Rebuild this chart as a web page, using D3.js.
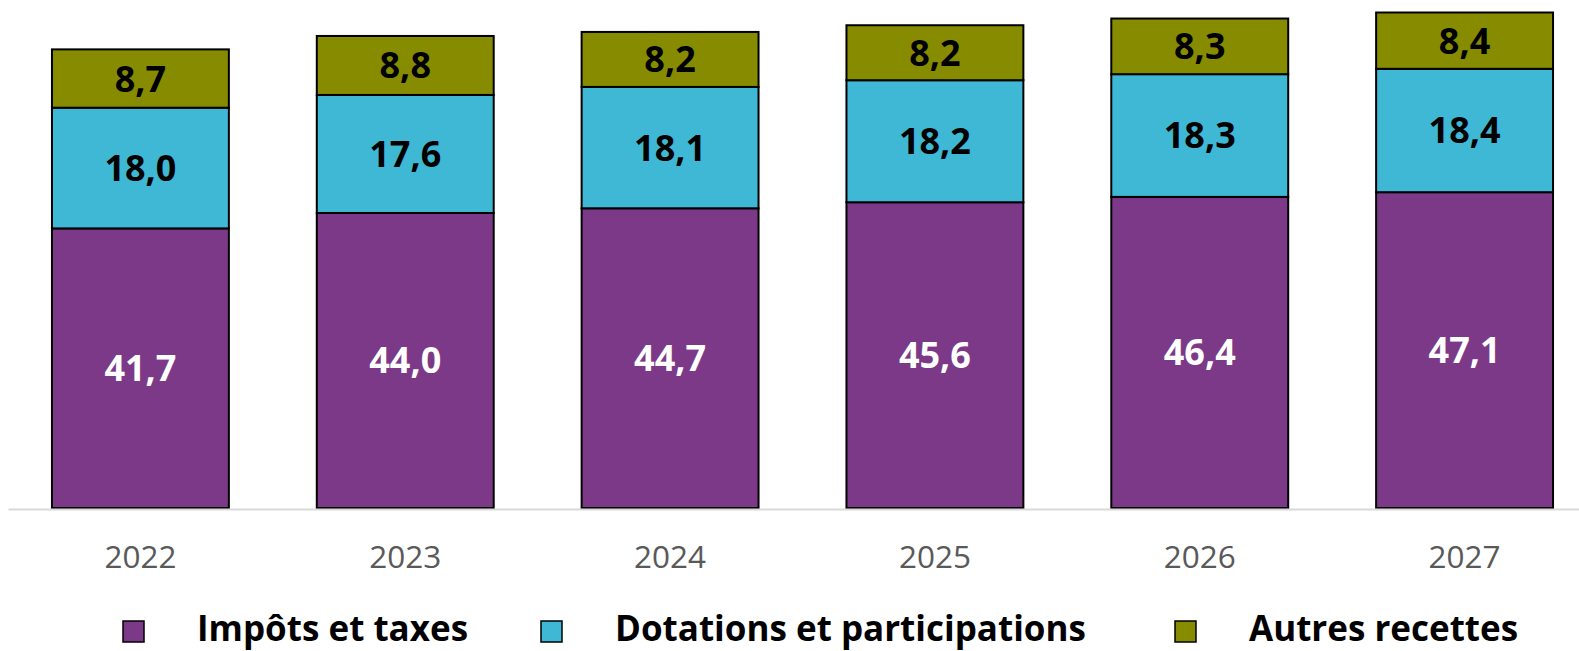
<!DOCTYPE html>
<html>
<head>
<meta charset="utf-8">
<script src="https://cdn.jsdelivr.net/npm/d3@7"></script>
<style>
  html, body { margin: 0; padding: 0; background: #fff; }
  svg { display: block; }
</style>
</head>
<body>
<div id="chart"></div>
<script>
// ----------------------------
// DATA
// ----------------------------
const years = ["2022", "2023", "2024", "2025", "2026", "2027"];
const impots = [41.7, 44.0, 44.7, 45.6, 46.4, 47.1];
const dotations = [18.0, 17.6, 18.1, 18.2, 18.3, 18.4];
const autres = [8.7, 8.8, 8.2, 8.2, 8.3, 8.4];

const seriesNames = ["Impôts et taxes", "Dotations et participations", "Autres recettes"];
const seriesColors = ["#7b3987", "#3fb8d5", "#878b00"];
const labelColors = ["#ffffff", "#000000", "#000000"];

function drawChart() {
  const width = 1579;
  const height = 651;
  const baseY = 508;

  const rows = years.map((y, i) => ({
    year: y,
    s0: impots[i],
    s1: dotations[i],
    s2: autres[i]
  }));

  const stack = d3.stack().keys(["s0", "s1", "s2"]);
  const layers = stack(rows);

  const svg = d3.select("#chart")
    .append("svg")
    .attr("width", width)
    .attr("height", height);

  const x = d3.scaleBand()
    .domain(years)
    .range([8, 1597])
    .paddingInner(0.332)
    .paddingOuter(0.166);

  const y = d3.scaleLinear()
    .domain([0, 75])
    .range([baseY, baseY - 75 * 6.705]);

  // ----------------------------
  // BARS
  // ----------------------------
  const groups = svg.selectAll(".layer")
    .data(layers)
    .join("g")
    .attr("class", "layer")
    .attr("fill", (d, i) => seriesColors[i]);

  groups.selectAll("rect")
    .data(d => d)
    .join("rect")
    .attr("x", d => x(d.data.year))
    .attr("width", x.bandwidth())
    .attr("y", d => y(d[1]))
    .attr("height", d => y(d[0]) - y(d[1]))
    .attr("stroke", "#000")
    .attr("stroke-width", 2);

  // baseline axis
  svg.append("g")
    .attr("transform", `translate(0,${baseY + 1})`)
    .call(d3.axisBottom(x).tickSize(0).tickPadding(0).tickFormat(""))
    .call(g => g.select(".domain").attr("stroke", "#d9d9d9").attr("stroke-width", 2));

  // year labels
  svg.append("g")
    .selectAll("text")
    .data(years)
    .join("text")
    .attr("x", d => x(d) + x.bandwidth() / 2)
    .attr("y", 568)
    .attr("text-anchor", "middle")
    .attr("font-family", "'Open Sans', sans-serif")
    .attr("font-size", "31.5px")
    .attr("fill", "#595959")
    .text(d => d);

  // ----------------------------
  // VALUE LABELS
  // ----------------------------
  const fmt = v => d3.format(".1f")(v).replace(".", ",");

  layers.forEach((layer, li) => {
    svg.append("g")
      .selectAll("text")
      .data(layer)
      .join("text")
      .attr("x", d => x(d.data.year) + x.bandwidth() / 2)
      .attr("y", d => (y(d[0]) + y(d[1])) / 2)
      .attr("dy", "0.36em")
      .attr("text-anchor", "middle")
      .attr("font-family", "'Open Sans', sans-serif")
      .attr("font-weight", "700")
      .attr("font-size", "36px")
      .attr("fill", labelColors[li])
      .text(d => fmt(d[1] - d[0]));
  });

  // ----------------------------
  // LEGEND
  // ----------------------------
  const legendX = [123, 541, 1175];
  const legend = svg.append("g");

  const items = legend.selectAll("g")
    .data(seriesNames)
    .join("g")
    .attr("transform", (d, i) => `translate(${legendX[i]},621)`);

  items.append("rect")
    .attr("width", 21)
    .attr("height", 21)
    .attr("fill", (d, i) => seriesColors[i])
    .attr("stroke", "#000")
    .attr("stroke-width", 1.5);

  items.append("text")
    .attr("x", 74)
    .attr("y", 20)
    .attr("font-family", "'Open Sans', sans-serif")
    .attr("font-weight", "700")
    .attr("font-size", "35px")
    .attr("fill", "#000")
    .text(d => d);
}

drawChart();
</script>
</body>
</html>
